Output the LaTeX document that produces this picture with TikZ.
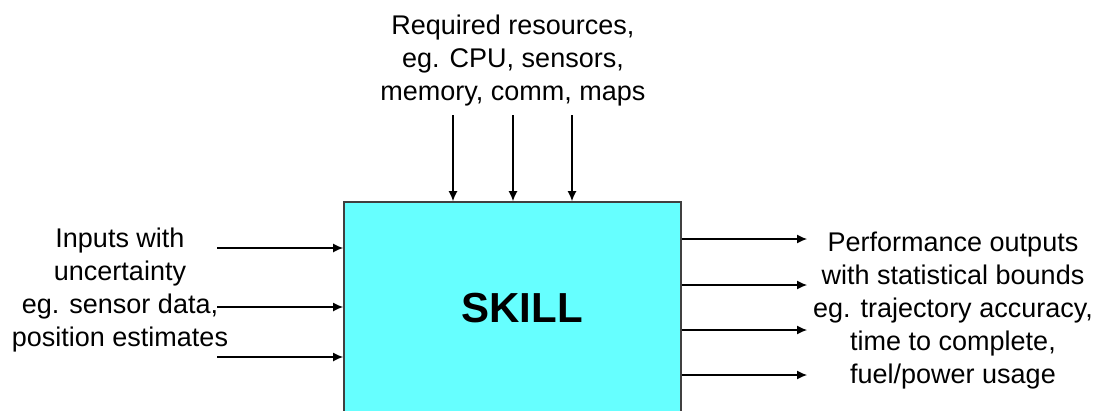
\documentclass[tikz,border=0pt]{standalone}
\usepackage{fontspec}
\setmainfont{Liberation Sans}
\usetikzlibrary{arrows.meta}
\begin{document}
\begin{tikzpicture}[x=1pt,y=-1pt,
  lbl/.style={align=center, inner sep=0pt, font=\fontsize{27}{33}\selectfont},
  arr/.style={line width=1.2pt, -{Latex[length=10pt,width=9pt]}},
  skillbox/.style={draw=black!75, line width=1.8pt, minimum width=337pt, minimum height=228pt, inner sep=0pt}]
\useasboundingbox (0,0) rectangle (1096,410);
\clip (0,0) rectangle (1096,410);
\fill[white] (0,0) rectangle (1096,410);
\node[skillbox, fill={rgb,255:red,102;green,255;blue,255}] (box) at (512.5,316) {};
\node[font=\fontsize{42}{46}\selectfont\bfseries] (skill) at (522,308) {SKILL};
\node[lbl] (top) at (513,61) {Required resources,\\eg. CPU, sensors,\\memory, comm, maps};
\node[lbl] (left) at (120,290) {Inputs with\\uncertainty\\eg. sensor data,\\position estimates};
\node[lbl] (right) at (953,311) {Performance outputs\\with statistical bounds\\eg. trajectory accuracy,\\time to complete,\\fuel/power usage};
\coordinate (t1) at (453,115);
\coordinate (t2) at (513,115);
\coordinate (t3) at (572,115);
\draw[arr] (t1) -- (t1 |- box.north);
\draw[arr] (t2) -- (t2 |- box.north);
\draw[arr] (t3) -- (t3 |- box.north);
\coordinate (l1) at (217,248);
\coordinate (l2) at (217,307);
\coordinate (l3) at (217,357);
\draw[arr] (l1) -- (l1 -| box.west);
\draw[arr] (l2) -- (l2 -| box.west);
\draw[arr] (l3) -- (l3 -| box.west);
\coordinate (r1) at (807,239);
\coordinate (r2) at (807,285);
\coordinate (r3) at (807,330);
\coordinate (r4) at (807,375);
\draw[arr] (r1 -| box.east) -- (r1);
\draw[arr] (r2 -| box.east) -- (r2);
\draw[arr] (r3 -| box.east) -- (r3);
\draw[arr] (r4 -| box.east) -- (r4);
\end{tikzpicture}
\end{document}
